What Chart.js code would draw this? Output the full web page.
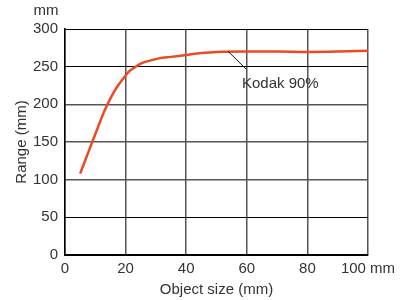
<!DOCTYPE html>
<html>
<head>
<meta charset="utf-8">
<script src="https://cdn.jsdelivr.net/npm/chart.js@4"></script>
<style>
    html, body { margin: 0; padding: 0; background: #fff; }
    #wrap { width: 406px; height: 300px; }
</style>
</head>
<body>
<div id="wrap"><canvas id="rangeChart" width="406" height="300"></canvas></div>
<script>
// object size (mm) vs range (mm)
const objectSizes = [5, 7, 9, 11, 13, 15, 17, 19, 21, 23, 25, 28, 31, 35, 40, 45, 50, 60, 70, 80, 90, 100];
const ranges = [108, 129, 150, 171, 191, 208, 222, 233, 243, 249, 254, 258, 261, 263, 265.5, 268, 269.5, 270, 270, 269.5, 270, 271];
const seriesLabel = 'Kodak 90%';
const xTicks = [0, 20, 40, 60, 80, 100];
const yTicks = [0, 50, 100, 150, 200, 250, 300];

const ctx = document.getElementById('rangeChart').getContext('2d');
const textColor = '#333';
const fontFamily = '"Liberation Sans", Arial, sans-serif';
const fontSize = 15;

// extra labels: unit on the y axis and the leader line to the curve
const extras = {
    id: 'extras',
    afterDraw(chart) {
        const c = chart.ctx;
        const x = chart.scales.x;
        const y = chart.scales.y;
        c.save();
        c.fillStyle = textColor;
        c.font = fontSize + 'px ' + fontFamily;
        c.textBaseline = 'middle';
        c.textAlign = 'center';
        c.fillText('mm', 46, 11);

        c.strokeStyle = '#111';
        c.lineWidth = 1;
        c.beginPath();
        c.moveTo(x.getPixelForValue(53.8), y.getPixelForValue(270.5));
        c.lineTo(x.getPixelForValue(59.7), y.getPixelForValue(247));
        c.stroke();
        c.textAlign = 'left';
        c.fillText(seriesLabel, x.getPixelForValue(58.4), y.getPixelForValue(227));
        c.restore();
    }
};

new Chart(ctx, {
    type: 'line',
    data: {
        datasets: [{
            label: seriesLabel,
            data: objectSizes.map((s, i) => ({ x: s, y: ranges[i] })),
            borderColor: '#ea4a25',
            borderWidth: 2.5,
            pointRadius: 0,
            cubicInterpolationMode: 'monotone',
            fill: false
        }]
    },
    options: {
        responsive: false,
        animation: false,
        layout: { padding: { left: 0, right: 38, top: 29, bottom: 0 } },
        plugins: {
            legend: { display: false },
            tooltip: { enabled: false }
        },
        scales: {
            x: {
                type: 'linear',
                min: 0,
                max: 100,
                afterFit: scale => { scale.height = 45; },
                afterBuildTicks: scale => { scale.ticks = xTicks.map(v => ({ value: v })); },
                grid: { color: '#555', lineWidth: 1.5, drawTicks: false },
                border: { color: '#000', width: 1.5 },
                ticks: {
                    color: textColor,
                    font: { family: fontFamily, size: fontSize },
                    padding: 5,
                    maxRotation: 0,
                    callback: v => v === 100 ? '100 mm' : String(v)
                },
                title: {
                    display: true,
                    text: 'Object size (mm)',
                    color: textColor,
                    font: { family: fontFamily, size: fontSize },
                    padding: { top: 0, bottom: 1 }
                }
            },
            y: {
                min: 0,
                max: 300,
                afterFit: scale => { scale.width = 65; },
                afterBuildTicks: scale => { scale.ticks = yTicks.map(v => ({ value: v })); },
                grid: {
                    color: c => [100, 150, 200].includes(c.tick.value) ? '#555' : '#000',
                    lineWidth: c => [100, 150, 200].includes(c.tick.value) ? 1.5 : 1,
                    drawTicks: false
                },
                border: { color: '#000', width: 1.5 },
                ticks: { color: textColor, font: { family: fontFamily, size: fontSize }, padding: 7 },
                title: {
                    display: true,
                    text: 'Range (mm)',
                    color: textColor,
                    font: { family: fontFamily, size: fontSize },
                    padding: { top: 13, bottom: 0 }
                }
            }
        }
    },
    plugins: [extras]
});
</script>
</body>
</html>
